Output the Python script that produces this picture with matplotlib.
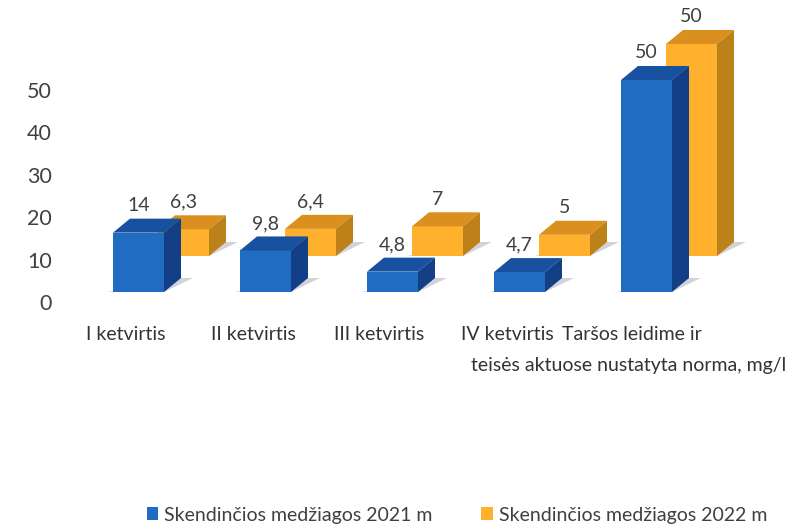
import matplotlib
matplotlib.use("Agg")
import matplotlib.pyplot as plt
from matplotlib.patches import Polygon, Patch

plt.rcParams['font.family'] = ['Lato', 'DejaVu Sans']

# --- data ---
categories = ["I ketvirtis", "II ketvirtis", "III ketvirtis", "IV ketvirtis",
              "Taršos leidime ir\nteisės aktuose nustatyta norma, mg/l"]
values_2021 = [14, 9.8, 4.8, 4.7, 50]
values_2022 = [6.3, 6.4, 7, 5, 50]
labels_2021 = ["14", "9,8", "4,8", "4,7", "50"]
labels_2022 = ["6,3", "6,4", "7", "5", "50"]
yticks = [0, 10, 20, 30, 40, 50]

# --- fake 3d look, in data units ---
W, H = 801, 531
px_x = 1 / 127      # one pixel on the x scale
px_y = 1 / 4.24     # one pixel on the y scale
pt = 0.72           # one pixel in points
bar_w = 51 * px_x
depth_x = 17 * px_x
depth_y = 14 * px_y
base_2021 = 10 * px_y
base_2022 = 46 * px_y
shift_2022 = 45 * px_x

blue = ("#1f6cc2", "#17519f", "#123f86")
orange = ("#ffb02c", "#da8f1e", "#bd8119")
shadow = "#d2d2da"
text_col = "#404040"

fig = plt.figure(figsize=(W / 100, H / 100), dpi=100)
ax = fig.add_axes([60 / W, 1 - 302 / H, 1 - 60 / W, 302 / H])
ax.set_xlim((60 - 138.5) / 127, (801 - 138.5) / 127)
ax.set_ylim(0, 302 / 4.24)


def draw_bar(x, base, val, cols, z):
    x0, x1 = x - bar_w / 2, x + bar_w / 2
    top = base + val
    dx, dy = depth_x, depth_y
    # floor shadow
    ax.add_patch(Polygon([(x0 - 5 * px_x, base), (x1, base),
                          (x1 + dx + 12 * px_x, base + dy), (x1 + dx, base + dy)],
                         fc=shadow, ec="none", zorder=z, clip_on=False))
    ax.add_patch(Polygon([(x0, base), (x1, base), (x1, top), (x0, top)],
                         fc=cols[0], ec="none", zorder=z + 1, clip_on=False))
    ax.add_patch(Polygon([(x0, top), (x1, top), (x1 + dx, top + dy), (x0 + dx, top + dy)],
                         fc=cols[1], ec="none", zorder=z + 1, clip_on=False))
    ax.add_patch(Polygon([(x1, base), (x1 + dx, base + dy), (x1 + dx, top + dy), (x1, top)],
                         fc=cols[2], ec="none", zorder=z + 1, clip_on=False))


def note(txt, x, y, off_x, off_y, size, col=text_col):
    # offsets are given in pixels
    ax.annotate(txt, (x, y), xytext=(off_x * pt, off_y * pt), textcoords="offset points",
                ha="center", va="center", fontsize=size, color=col, zorder=8,
                annotation_clip=False)


for i in range(len(categories)):
    draw_bar(i + shift_2022, base_2022, values_2022[i], orange, 2)
    draw_bar(i, base_2021, values_2021[i], blue, 4)
    note(labels_2022[i], i + shift_2022, base_2022 + values_2022[i], 0, 27, 14)
    note(labels_2021[i], i, base_2021 + values_2021[i], 0, 27, 14)

ax.set_yticks(yticks)
ax.set_yticklabels([str(v) for v in yticks], fontsize=15.5, color=text_col)
ax.tick_params(axis="y", length=0, pad=5.8)
ax.set_xticks([])
for s in ax.spines.values():
    s.set_visible(False)
ax.patch.set_alpha(0)

# category labels sit unevenly in the original
label_off = [-13, -12, -13, -12]
for i in range(4):
    note(categories[i], i, 0, label_off[i], -32, 14, "#333333")
first, second = categories[4].split("\n")
note(first, 4, 0, -15, -32, 14, "#333333")
note(second, 4, 0, -18, -64, 14, "#333333")

handles = [Patch(fc=blue[0], label="Skendinčios medžiagos 2021 m"),
           Patch(fc=orange[0], label="Skendinčios medžiagos 2022 m")]
fig.legend(handles=handles, ncol=2, frameon=False, loc="center",
           bbox_to_anchor=(457 / W, 1 - 515 / H), fontsize=14,
           labelcolor=text_col, handlelength=0.6, handleheight=0.6,
           handletextpad=0.3, columnspacing=2.5)

fig.savefig("out.png", dpi=100)
